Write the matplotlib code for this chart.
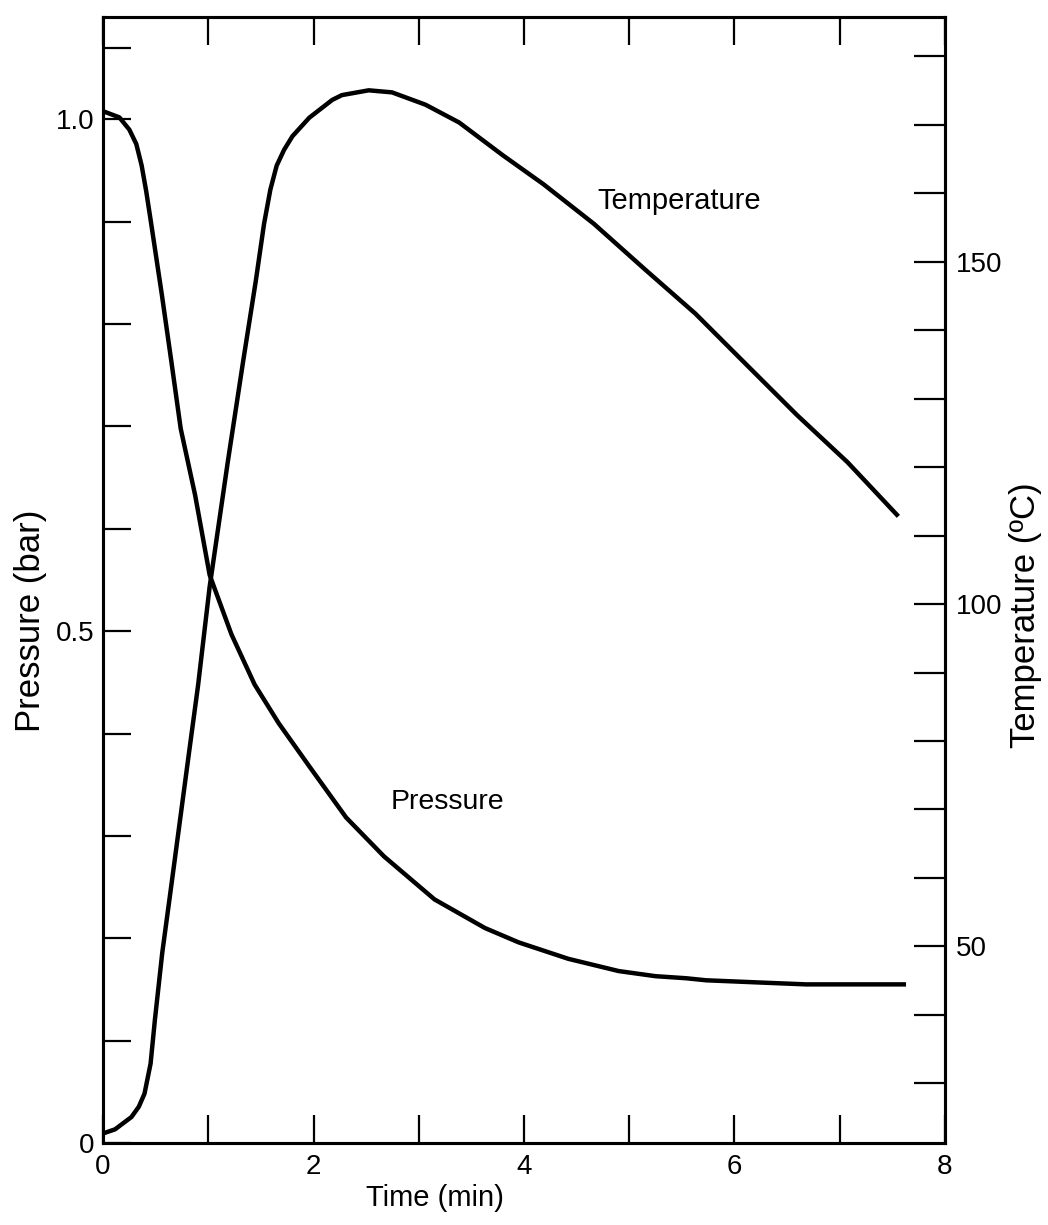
import matplotlib
matplotlib.use('Agg')
import matplotlib.pyplot as plt
from matplotlib.ticker import FixedLocator, NullFormatter

plt.rcParams['font.family'] = ['Liberation Sans', 'DejaVu Sans']

# Pressure (bar)
pressure_time = [0.0, 0.155, 0.25, 0.316, 0.367, 0.41, 0.455, 0.56, 0.65, 0.738,
                 0.875, 1.013, 1.22, 1.44, 1.67, 1.96, 2.31, 2.67, 3.15, 3.63,
                 3.95, 4.42, 4.90, 5.25, 5.54, 5.73, 6.20, 6.68, 7.15, 7.63]
pressure = [1.008, 1.002, 0.99, 0.976, 0.955, 0.93, 0.90, 0.828, 0.763, 0.698,
            0.633, 0.555, 0.497, 0.448, 0.41, 0.368, 0.318, 0.28, 0.238, 0.21,
            0.196, 0.18, 0.168, 0.163, 0.161, 0.159, 0.157, 0.155, 0.155, 0.155]

# Temperature (C)
temp_time = [0.0, 0.114, 0.27, 0.34, 0.394, 0.452, 0.493, 0.563, 0.648, 0.733,
             0.818, 0.903, 1.013, 1.186, 1.332, 1.45, 1.53, 1.59, 1.65, 1.72,
             1.80, 1.96, 2.178, 2.27, 2.524, 2.746, 3.064, 3.384, 3.80, 4.184,
             4.665, 5.146, 5.628, 6.11, 6.593, 7.074, 7.557]
temperature = [22.7, 23.3, 25.1, 26.6, 28.5, 32.9, 39.3, 49.1, 58.8, 68.6,
               78.4, 88.1, 102.5, 120.8, 135.5, 147.0, 155.5, 160.5, 164.0, 166.3,
               168.3, 171.0, 173.6, 174.3, 175.0, 174.7, 172.9, 170.3, 165.5, 161.3,
               155.5, 148.9, 142.4, 135.0, 127.6, 120.7, 112.8]

fig = plt.figure(figsize=(10.48, 12.25), dpi=100, facecolor='white')
ax = fig.add_axes([0.0983, 0.0669, 0.8034, 0.9192])
ax2 = ax.twinx()

ax.plot(pressure_time, pressure, color='black', linewidth=3.2,
        solid_capstyle='butt', solid_joinstyle='round')
ax2.plot(temp_time, temperature, color='black', linewidth=3.2,
         solid_capstyle='butt', solid_joinstyle='round')

ax.set_xlim(0, 8)
ax.set_ylim(0, 1.1)
ax2.set_ylim(21.3, 185.7)

for a in (ax, ax2):
    for s in a.spines.values():
        s.set_linewidth(2.2)

# x ticks
ax.xaxis.set_major_locator(FixedLocator([0, 2, 4, 6, 8]))
ax.xaxis.set_minor_locator(FixedLocator([1, 3, 5, 7]))
ax.set_xticklabels(['0', '2', '4', '6', '8'])
ax.tick_params(axis='x', which='both', direction='in', top=True, bottom=True,
               length=20, width=1.6, labelsize=20, pad=8)

# left y ticks
ax.yaxis.set_major_locator(FixedLocator([0, 0.5, 1.0]))
ax.yaxis.set_minor_locator(FixedLocator([0.1, 0.2, 0.3, 0.4, 0.6, 0.7, 0.8, 0.9, 1.07]))
ax.set_yticklabels(['0', '0.5', '1.0'])
ax.tick_params(axis='y', which='both', direction='in', left=True, right=False,
               length=20, width=1.6, labelsize=20, pad=6)

# right y ticks
ax2.yaxis.set_major_locator(FixedLocator([50, 100, 150]))
ax2.yaxis.set_minor_locator(FixedLocator([30, 40, 60, 70, 80, 90, 110, 120, 130, 140, 160, 170, 180]))
ax2.yaxis.set_minor_formatter(NullFormatter())
ax2.tick_params(axis='y', which='both', direction='in', length=22, width=1.6,
                labelsize=20, pad=8)

ax.set_xlabel('Time (min)', fontsize=21)
ax.set_ylabel('Pressure (bar)', fontsize=25)
ax2.set_ylabel('Temperature (ºC)', fontsize=25)
ax.xaxis.set_label_coords(0.394, -0.036)
ax.yaxis.set_label_coords(-0.066, 0.464)
ax2.yaxis.set_label_coords(1.0765, 0.469)

ax.text(2.73, 0.333, 'Pressure', fontsize=20.5, va='center', ha='left')
ax.text(4.70, 0.92, 'Temperature', fontsize=21, va='center', ha='left')

plt.savefig('out.png', dpi=100, facecolor='white')
